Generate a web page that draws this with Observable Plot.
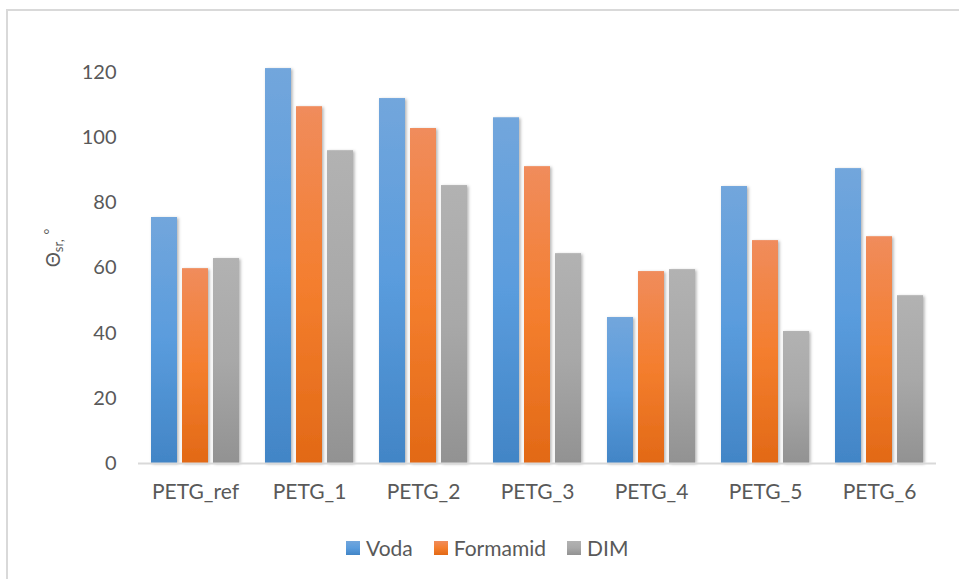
<!DOCTYPE html>
<html><head><meta charset="utf-8">
<script src="https://cdn.jsdelivr.net/npm/d3@7"></script>
<script src="https://cdn.jsdelivr.net/npm/@observablehq/plot@0.6"></script>
<style>
body{margin:0;background:#fff;font-family:Lato,sans-serif;}
#wrap{position:relative;width:959px;height:579px;overflow:hidden;background:#fff}
#border{position:absolute;left:6px;top:9px;width:980px;height:600px;border:2px solid #d9d9d9;box-sizing:border-box}
#chart{position:absolute;left:0;top:0}
#ylabel{position:absolute;left:53px;top:248px;transform:translate(-50%,-50%) rotate(-90deg);font-size:19px;color:#595959;white-space:nowrap;line-height:1}
#ylabel sub{font-size:13px;vertical-align:-3px}
#ylabel sup{font-size:14px;vertical-align:6px}
#legend{position:absolute;top:536px;left:346px;display:flex;align-items:center;font-size:21px;color:#595959;line-height:24px}
#legend .it{display:flex;align-items:center;margin-right:21px}
#legend .sw{width:14px;height:14px;margin-right:6px}
g[aria-label="bar"] rect{filter:url(#shadow)}
g[aria-label="fx-axis tick label"] text{font-size:21px}
</style></head>
<body>
<svg width="0" height="0" style="position:absolute">
  <defs>
    <linearGradient id="gVoda" x1="0" y1="0" x2="0" y2="1">
      <stop offset="0" stop-color="#72a6dc"/><stop offset="0.5" stop-color="#5a9cdd"/><stop offset="1" stop-color="#4285c6"/>
    </linearGradient>
    <linearGradient id="gForm" x1="0" y1="0" x2="0" y2="1">
      <stop offset="0" stop-color="#f08c5c"/><stop offset="0.5" stop-color="#f47e2e"/><stop offset="1" stop-color="#e26916"/>
    </linearGradient>
    <linearGradient id="gDim" x1="0" y1="0" x2="0" y2="1">
      <stop offset="0" stop-color="#b2b2b2"/><stop offset="0.5" stop-color="#a8a8a8"/><stop offset="1" stop-color="#929292"/>
    </linearGradient>
    <filter id="shadow" x="-30%" y="-5%" width="160%" height="112%">
      <feDropShadow dx="1.5" dy="1" stdDeviation="1.8" flood-color="#000" flood-opacity="0.3"/>
    </filter>
  </defs>
</svg>
<div id="wrap">
  <div id="border"></div>
  <div id="chart"></div>
  <div id="ylabel">Θ<sub>sr,</sub> <sup>°</sup></div>
  <div id="legend"></div>
</div>
<script>
const categories = ["PETG_ref", "PETG_1", "PETG_2", "PETG_3", "PETG_4", "PETG_5", "PETG_6"];
const series = ["Voda", "Formamid", "DIM"];
const voda = [75.5, 121.2, 112.0, 106.1, 44.8, 85.0, 90.5];
const formamid = [59.8, 109.5, 102.8, 91.1, 58.9, 68.4, 69.6];
const dim = [62.9, 96.0, 85.3, 64.4, 59.5, 40.5, 51.5];
const yTicks = [0, 20, 40, 60, 80, 100, 120];
const fills = ["url(#gVoda)", "url(#gForm)", "url(#gDim)"];
const swatches = ["linear-gradient(#72a6dc,#5a9cdd,#4285c6)", "linear-gradient(#f08c5c,#f47e2e,#e26916)", "linear-gradient(#b2b2b2,#a8a8a8,#929292)"];

const valuesBySeries = [voda, formamid, dim];
const rows = [];
categories.forEach((c, i) => series.forEach((s, j) => rows.push({cat: c, series: s, value: valuesBySeries[j][i]})));

const chart = Plot.plot({
  width: 959, height: 510,
  marginLeft: 136, marginRight: 22, marginTop: 39.4, marginBottom: 47,
  style: {fontFamily: "Lato, sans-serif", fontSize: "20px", color: "#595959", background: "transparent", overflow: "visible"},
  fx: {domain: categories, padding: 0, label: null, axis: "bottom", tickSize: 0, tickPadding: 21},
  x: {domain: series, paddingInner: 0.16, paddingOuter: 0.4, axis: null},
  y: {domain: [0, 130], ticks: yTicks, tickSize: 0, tickPadding: 22, label: null, tickFormat: d => String(d)},
  color: {type: "ordinal", domain: series, range: fills},
  marks: [
    Plot.barY(rows, {fx: "cat", x: "series", y: "value", fill: "series"}),
    Plot.ruleY([0], {stroke: "#d9d9d9", strokeWidth: 2})
  ]
});
document.getElementById("chart").appendChild(chart);

const legend = document.getElementById("legend");
series.forEach((s, j) => {
  const it = document.createElement("div"); it.className = "it";
  const sw = document.createElement("div"); sw.className = "sw"; sw.style.background = swatches[j];
  const tx = document.createElement("span"); tx.textContent = s;
  it.appendChild(sw); it.appendChild(tx); legend.appendChild(it);
});
</script>
</body></html>
